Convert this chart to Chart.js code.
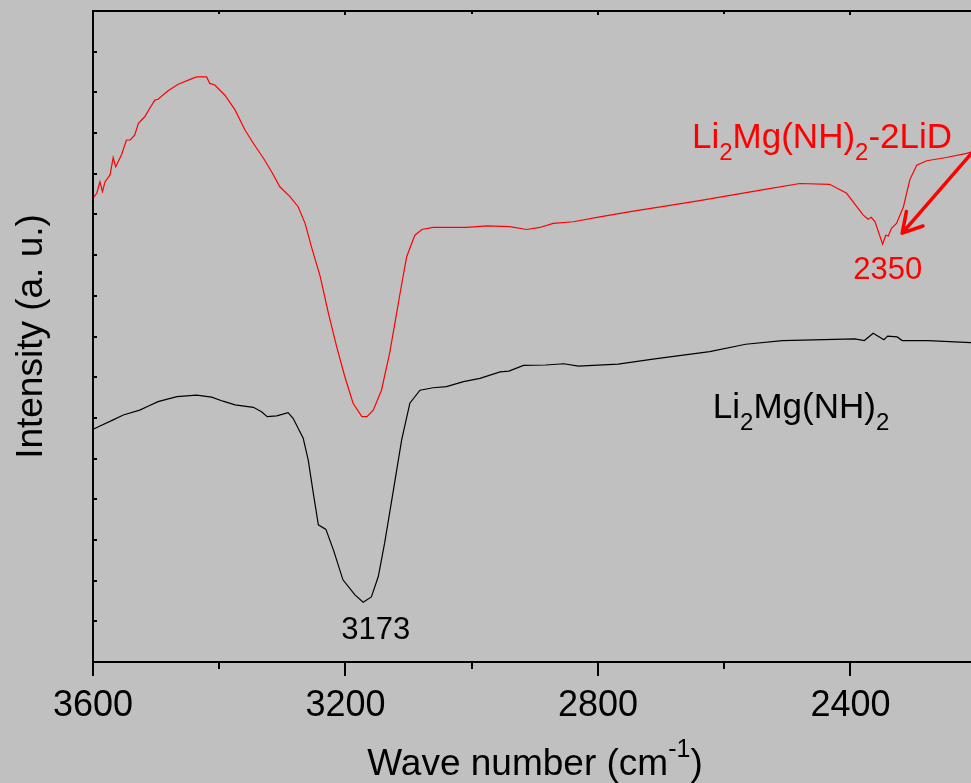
<!DOCTYPE html>
<html>
<head>
<meta charset="utf-8">
<title>IR spectra</title>
<script src="https://cdn.jsdelivr.net/npm/chart.js@4.4.1/dist/chart.umd.min.js"></script>
<style>
  html, body { margin: 0; padding: 0; background: #c0c0c0; }
  canvas { display: block; }
</style>
</head>
<body>
<canvas id="ir" width="971" height="783"></canvas>
<script>
// x: wave number (cm-1), y: intensity (a. u.)
const redWave = [3600, 3594, 3589, 3585, 3581, 3573, 3568, 3564, 3555, 3547, 3541, 3534, 3528, 3518, 3510,
  3502, 3497, 3481, 3465, 3446, 3436, 3420, 3415, 3407, 3391, 3375, 3359, 3346, 3330, 3317, 3304, 3288,
  3275, 3264, 3254, 3240, 3227, 3214, 3201, 3188, 3174, 3166, 3156, 3143, 3130, 3119, 3114, 3106, 3103,
  3095, 3090, 3079, 3061, 3008, 2976, 2940, 2913, 2892, 2871, 2839, 2797, 2744, 2691, 2639, 2586, 2533,
  2480, 2433, 2406, 2390, 2380, 2372, 2367, 2361, 2353, 2349, 2344, 2340, 2335, 2327, 2316, 2306, 2295,
  2279, 2248, 2216, 2209];
const redInt = [11.40, 11.52, 11.80, 11.56, 11.80, 11.97, 12.40, 12.17, 12.46, 12.83, 12.83, 12.95, 13.24,
  13.40, 13.61, 13.81, 13.83, 14.04, 14.20, 14.32, 14.38, 14.38, 14.22, 14.18, 13.93, 13.57, 13.07, 12.75,
  12.38, 12.05, 11.68, 11.44, 11.19, 10.78, 10.21, 9.47, 8.57, 7.75, 7.01, 6.36, 6.03, 6.03, 6.19, 6.68,
  7.59, 8.57, 9.02, 9.71, 9.96, 10.29, 10.49, 10.63, 10.68, 10.68, 10.72, 10.70, 10.63, 10.68, 10.78,
  10.82, 10.94, 11.08, 11.21, 11.34, 11.48, 11.62, 11.76, 11.74, 11.52, 11.19, 10.99, 10.88, 10.93, 10.82,
  10.45, 10.27, 10.49, 10.47, 10.66, 10.78, 11.19, 11.85, 12.21, 12.32, 12.40, 12.50, 12.53];

const blackWave = [3600, 3597, 3589, 3568, 3552, 3526, 3512, 3497, 3467, 3436, 3412, 3394, 3375, 3346,
  3333, 3324, 3309, 3291, 3283, 3267, 3259, 3251, 3243, 3231, 3219, 3204, 3185, 3172, 3159, 3148, 3138,
  3124, 3111, 3098, 3082, 3061, 3040, 3013, 2987, 2955, 2941, 2918, 2883, 2854, 2831, 2768, 2710, 2623,
  2566, 2508, 2393, 2378, 2364, 2347, 2341, 2326, 2318, 2277, 2209];
const blackInt = [5.73, 5.74, 5.80, 5.95, 6.07, 6.19, 6.29, 6.40, 6.52, 6.56, 6.51, 6.41, 6.32, 6.26, 6.15,
  6.03, 6.05, 6.13, 5.99, 5.50, 4.96, 4.15, 3.37, 3.26, 2.75, 2.02, 1.65, 1.47, 1.60, 2.10, 2.92, 4.23,
  5.46, 6.36, 6.68, 6.74, 6.77, 6.89, 6.97, 7.13, 7.15, 7.29, 7.30, 7.33, 7.27, 7.32, 7.45, 7.63, 7.81,
  7.90, 7.94, 7.90, 8.08, 7.92, 8.01, 7.99, 7.90, 7.90, 7.85];

const majorTicks = [3600, 3200, 2800, 2400];
const minorTicks = [3400, 3000, 2600, 2200];
const peakLabels = [
  { text: "3173", x: 3152, y: 0.57, color: "#000000" },
  { text: "2350", x: 2341, y: 9.41, color: "#ff0000" }
];

const FONT = "'Liberation Sans', Arial, Helvetica, sans-serif";

function toPoints(xs, ys) {
  return xs.map((x, i) => ({ x: x, y: ys[i] }));
}

// draws text pieces; sub: lowered small, sup: raised small
function drawRich(ctx, x, y, parts, size, color) {
  ctx.save();
  ctx.fillStyle = color;
  ctx.textBaseline = "alphabetic";
  ctx.textAlign = "left";
  let cx = x;
  parts.forEach(p => {
    const small = p.sub || p.sup;
    ctx.font = (small ? Math.round(size * 0.68) : size) + "px " + FONT;
    const dy = p.sub ? size * 0.34 : p.sup ? -size * 0.5 : 0;
    ctx.fillText(p.t, cx, y + dy);
    cx += ctx.measureText(p.t).width;
  });
  ctx.restore();
  return cx - x;
}

function richWidth(ctx, parts, size) {
  let w = 0;
  parts.forEach(p => {
    ctx.font = ((p.sub || p.sup) ? Math.round(size * 0.68) : size) + "px " + FONT;
    w += ctx.measureText(p.t).width;
  });
  return w;
}

const framePlugin = {
  id: "frame",
  beforeDraw(chart) {
    const ctx = chart.ctx;
    ctx.save();
    ctx.fillStyle = "#c0c0c0";
    ctx.fillRect(0, 0, chart.width, chart.height);
    ctx.restore();
  },
  afterDraw(chart) {
    const ctx = chart.ctx;
    const a = chart.chartArea;
    const xs = chart.scales.x, ys = chart.scales.y;
    ctx.save();
    ctx.strokeStyle = "#000";
    ctx.lineWidth = 2;
    ctx.beginPath();
    ctx.moveTo(a.left, a.top); ctx.lineTo(a.right + 2, a.top);
    ctx.moveTo(a.left, a.top - 1); ctx.lineTo(a.left, a.bottom + 1);
    ctx.moveTo(a.left - 1, a.bottom); ctx.lineTo(a.right + 2, a.bottom);
    // bottom ticks, outward
    majorTicks.forEach(v => {
      const px = Math.round(xs.getPixelForValue(v));
      ctx.moveTo(px, a.bottom); ctx.lineTo(px, a.bottom + 14);
      ctx.moveTo(px, a.top); ctx.lineTo(px, a.top + 4);
    });
    minorTicks.forEach(v => {
      const px = Math.round(xs.getPixelForValue(v));
      if (px > a.right) return;
      ctx.moveTo(px, a.bottom); ctx.lineTo(px, a.bottom + 7);
      ctx.moveTo(px, a.top); ctx.lineTo(px, a.top + 3);
    });
    // left ticks, inward
    for (let v = ys.min; v <= ys.max; v++) {
      const py = Math.round(ys.getPixelForValue(v));
      ctx.moveTo(a.left, py); ctx.lineTo(a.left + 4, py);
    }
    ctx.stroke();

    // arrow to the 2350 band
    const tail = { x: xs.getPixelForValue(2200), y: ys.getPixelForValue(12.65) };
    const tip = { x: xs.getPixelForValue(2318), y: ys.getPixelForValue(10.54) };
    const ang = Math.atan2(tail.y - tip.y, tail.x - tip.x);
    ctx.strokeStyle = "#ff0000";
    ctx.lineWidth = 3.5;
    ctx.lineCap = "round";
    ctx.beginPath();
    ctx.moveTo(tail.x, tail.y); ctx.lineTo(tip.x, tip.y);
    [Math.PI / 6, -Math.PI / 6].forEach(d => {
      ctx.moveTo(tip.x, tip.y);
      ctx.lineTo(tip.x + 22 * Math.cos(ang + d), tip.y + 22 * Math.sin(ang + d));
    });
    ctx.stroke();
    ctx.restore();

    // peak labels
    ctx.save();
    ctx.font = "31px " + FONT;
    ctx.textAlign = "center";
    ctx.textBaseline = "alphabetic";
    peakLabels.forEach(l => {
      ctx.fillStyle = l.color;
      ctx.fillText(l.text, xs.getPixelForValue(l.x), ys.getPixelForValue(l.y));
    });
    ctx.restore();

    // sample labels
    drawRich(ctx, xs.getPixelForValue(2651), ys.getPixelForValue(12.63),
      [{ t: "Li" }, { t: "2", sub: true }, { t: "Mg(NH)" }, { t: "2", sub: true }, { t: "-2LiD" }], 35, "#ff0000");
    drawRich(ctx, xs.getPixelForValue(2618), ys.getPixelForValue(6.0),
      [{ t: "Li" }, { t: "2", sub: true }, { t: "Mg(NH)" }, { t: "2", sub: true }], 35, "#000000");

    // axis titles
    const xt = [{ t: "Wave number (cm" }, { t: "-1", sup: true }, { t: ")" }];
    const w = richWidth(ctx, xt, 37);
    drawRich(ctx, (a.left + a.right) / 2 + 3 - w / 2, 775, xt, 37, "#000000");

    ctx.save();
    ctx.translate(42, (a.top + a.bottom) / 2);
    ctx.rotate(-Math.PI / 2);
    ctx.font = "37px " + FONT;
    ctx.fillStyle = "#000";
    ctx.textAlign = "center";
    ctx.textBaseline = "alphabetic";
    ctx.fillText("Intensity (a. u.)", 0, 0);
    ctx.restore();
  }
};

const lineStyle = { showLine: true, pointRadius: 0, borderWidth: 1.2, tension: 0, fill: false };

new Chart(document.getElementById("ir"), {
  type: "scatter",
  data: {
    datasets: [
      Object.assign({ label: "Li2Mg(NH)2-2LiD", data: toPoints(redWave, redInt), borderColor: "#ff0000" }, lineStyle),
      Object.assign({ label: "Li2Mg(NH)2", data: toPoints(blackWave, blackInt), borderColor: "#000000" }, lineStyle)
    ]
  },
  options: {
    animation: false,
    responsive: false,
    devicePixelRatio: 1,
    layout: { padding: { top: 11, right: 0, left: 0, bottom: 0 } },
    plugins: { legend: { display: false }, tooltip: { enabled: false } },
    scales: {
      x: {
        type: "linear",
        reverse: true,
        min: 2209,
        max: 3600,
        afterBuildTicks: s => { s.ticks = majorTicks.map(v => ({ value: v })); },
        afterFit: s => { s.height = 121; },
        grid: { display: false },
        border: { display: false },
        ticks: {
          color: "#000",
          font: { family: FONT, size: 36 },
          padding: 14,
          maxRotation: 0,
          autoSkip: false,
          callback: v => String(v)
        }
      },
      y: {
        min: 0,
        max: 16,
        afterFit: s => { s.width = 93; },
        grid: { display: false },
        border: { display: false },
        ticks: { display: false }
      }
    }
  },
  plugins: [framePlugin]
});
</script>
</body>
</html>
